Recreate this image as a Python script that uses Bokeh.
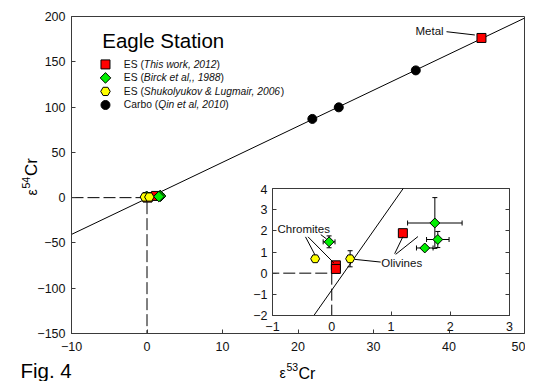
import math
from bokeh.plotting import figure
from bokeh.models import ColumnDataSource, Whisker, TeeHead, Label, LinearAxis, FixedTicker, Range1d
from bokeh.embed import file_html
from bokeh.resources import INLINE

# ---------------- data ----------------
X_RANGE = (-10, 50)
Y_RANGE = (-150, 200)
X_TICKS = [-10, 0, 10, 20, 30, 40, 50]
Y_TICKS = [-150, -100, -50, 0, 50, 100, 150, 200]
INSET_X_RANGE = (-1, 3)
INSET_Y_RANGE = (-2, 4)
INSET_X_TICKS = [-1, 0, 1, 2, 3]
INSET_Y_TICKS = [-2, -1, 0, 1, 2, 3, 4]

# ES (This work, 2012): chromites, olivine, metal
THIS_WORK_X = [0.07, 0.07, 1.20, 44.3]
THIS_WORK_Y = [0.37, 0.20, 1.89, 176.3]
# ES (Birck et al., 1988)
BIRCK_X = [-0.045, 1.74, 1.79, 1.57]
BIRCK_Y = [1.48, 2.37, 1.59, 1.19]
BIRCK_XERR = [0.10, 0.46, 0.19, 0.14]
BIRCK_YERR = [0.28, 1.20, 0.38, 0.10]
# ES (Shukolyukov & Lugmair, 2006)
SHUK_X = [-0.28, 0.31]
SHUK_Y = [0.68, 0.68]
SHUK_XERR = [0.05, 0.05]
SHUK_YERR = [0.10, 0.38]
# Carbo (Qin et al, 2010)
CARBO_X = [21.9, 25.4, 35.6]
CARBO_Y = [86.9, 99.7, 140.5]
# correlation line end points
FIT_X = [-10, 50]
FIT_Y = [-40.6, 198.2]
# dashed reference lines through the origin
REF_X = [-10, 0, 0]
REF_Y = [0, 0, -150]

LEGEND_ROWS = [
    ("ES (", "This work, 2012", ")"),
    ("ES (", "Birck et al,, 1988", ")"),
    ("ES (", "Shukolyukov & Lugmair, 2006", ")"),
    ("Carbo (", "Qin et al, 2010", ")"),
]

# ---------------- styles ----------------
FONT = "Liberation Sans"
AXC = "#3a3a3a"
RED = "#ff0000"
GREEN = "#00ee00"
YELLOW = "#ffff00"
TICK_FS = "12.5px"

W = {' ': 278, '(': 333, ')': 333, ',': 278, '.': 278, '&': 667,
     'A': 667, 'B': 667, 'C': 722, 'E': 667, 'L': 556, 'Q': 778, 'S': 667, 'T': 611,
     'a': 556, 'b': 556, 'c': 500, 'd': 556, 'e': 556, 'g': 556, 'h': 556, 'i': 222,
     'k': 500, 'l': 222, 'm': 833, 'n': 556, 'o': 556, 'r': 333, 's': 500, 't': 278,
     'u': 556, 'v': 500, 'w': 722, 'y': 500}


def tw(s, size):
    return sum(W.get(c, 556) for c in s) * size / 1000.0


def style_axis(ax, ticks, standoff):
    ax.ticker = FixedTicker(ticks=ticks)
    ax.major_tick_in = 4
    ax.major_tick_out = 0
    ax.minor_tick_line_color = None
    ax.axis_line_color = AXC
    ax.major_tick_line_color = AXC
    ax.major_label_text_font = FONT
    ax.major_label_text_font_size = TICK_FS
    ax.major_label_text_color = "#111111"
    ax.major_label_standoff = standoff


def add_points(fig, sizes):
    bsrc = ColumnDataSource(dict(
        x=BIRCK_X, y=BIRCK_Y,
        yu=[v + e for v, e in zip(BIRCK_Y, BIRCK_YERR)],
        yl=[v - e for v, e in zip(BIRCK_Y, BIRCK_YERR)],
        xu=[v + e for v, e in zip(BIRCK_X, BIRCK_XERR)],
        xl=[v - e for v, e in zip(BIRCK_X, BIRCK_XERR)]))
    ssrc = ColumnDataSource(dict(
        x=SHUK_X, y=SHUK_Y,
        yu=[v + e for v, e in zip(SHUK_Y, SHUK_YERR)],
        yl=[v - e for v, e in zip(SHUK_Y, SHUK_YERR)],
        xu=[v + e for v, e in zip(SHUK_X, SHUK_XERR)],
        xl=[v - e for v, e in zip(SHUK_X, SHUK_XERR)]))
    for src in (bsrc, ssrc):
        fig.add_layout(Whisker(source=src, base="x", upper="yu", lower="yl", dimension="height",
                               line_color="black", line_width=1,
                               upper_head=TeeHead(size=5, line_color="black", line_width=1),
                               lower_head=TeeHead(size=5, line_color="black", line_width=1)))
        fig.add_layout(Whisker(source=src, base="y", upper="xu", lower="xl", dimension="width",
                               line_color="black", line_width=1,
                               upper_head=TeeHead(size=5, line_color="black", line_width=1),
                               lower_head=TeeHead(size=5, line_color="black", line_width=1)))
    fig.scatter(CARBO_X, CARBO_Y, marker="circle", size=sizes["circle"],
                fill_color="black", line_color="black")
    fig.scatter(THIS_WORK_X, THIS_WORK_Y, marker="square", size=sizes["square"],
                fill_color=RED, line_color="black", line_width=1)
    fig.scatter(BIRCK_X, BIRCK_Y, marker="square", angle=math.pi / 4, size=sizes["diamond"],
                fill_color=GREEN, line_color="black", line_width=1)
    fig.scatter(SHUK_X, SHUK_Y, marker="hex", size=sizes["hex"],
                fill_color=YELLOW, line_color="black", line_width=1)


# ---------------- main figure ----------------
p = figure(frame_width=453, frame_height=317, x_range=X_RANGE, y_range=Y_RANGE,
           output_backend="svg", toolbar_location=None,
           min_border_left=63, min_border_right=1, min_border_top=8, min_border_bottom=30,
           outline_line_color=AXC, background_fill_color="white")
p.grid.grid_line_color = None
style_axis(p.xaxis[0], X_TICKS, 8)
style_axis(p.yaxis[0], Y_TICKS, 6)

p.line(FIT_X, FIT_Y, line_color="black", line_width=1)
p.line(REF_X, REF_Y, line_color="black", line_width=1, line_dash="12 4")
add_points(p, dict(circle=9, square=9, diamond=7.5, hex=9.5))

# Metal annotation
p.line([39.67, 43.42], [183.2, 179.6], line_color="black", line_width=1)
p.add_layout(Label(x=35.56, y=184.3, text="Metal", text_font=FONT, text_font_size="11.5px",
                   text_baseline="middle", text_align="left", text_color="#111111"))

# title
p.add_layout(Label(x=-5.93, y=173.3, text="Eagle Station", text_font=FONT, text_font_size="20.5px",
                   text_baseline="middle", text_align="left", text_color="black"))

# legend (manual, mixed italic)
LEG_MX = -5.5
LEG_TX = -3.07
LEG_Y = [147.1, 132.2, 117.3, 102.3]
LEG_FS = 10.3
p.scatter([LEG_MX], [LEG_Y[0]], marker="square", size=9, fill_color=RED, line_color="black")
p.scatter([LEG_MX], [LEG_Y[1]], marker="square", angle=math.pi / 4, size=7.5,
          fill_color=GREEN, line_color="black")
p.scatter([LEG_MX], [LEG_Y[2]], marker="hex", size=9.5, fill_color=YELLOW, line_color="black")
p.scatter([LEG_MX], [LEG_Y[3]], marker="circle", size=9, fill_color="black", line_color="black")
for (a, b, c), yy in zip(LEGEND_ROWS, LEG_Y):
    off = 0.0
    for part, style in ((a, "normal"), (b, "italic"), (c, "normal")):
        p.add_layout(Label(x=LEG_TX, y=yy, x_offset=off, text=part, text_font=FONT,
                           text_font_size=f"{LEG_FS}px", text_font_style=style,
                           text_baseline="middle", text_align="left", text_color="#111111"))
        off += tw(part, LEG_FS)

p.styles = {"position": "absolute", "left": "8px", "top": "8px"}

# ---------------- inset ----------------
inset = figure(frame_width=237, frame_height=127, x_range=INSET_X_RANGE, y_range=INSET_Y_RANGE,
               output_backend="svg", toolbar_location=None,
               min_border_left=24, min_border_right=8, min_border_top=4, min_border_bottom=24,
               outline_line_color=AXC, border_fill_color=None, background_fill_color="white")
inset.grid.grid_line_color = None
style_axis(inset.xaxis[0], INSET_X_TICKS, 6)
style_axis(inset.yaxis[0], INSET_Y_TICKS, 5)
rax = LinearAxis()
style_axis(rax, INSET_Y_TICKS, 0)
rax.major_label_text_color = None
inset.add_layout(rax, "right")

inset.line(FIT_X, FIT_Y, line_color="black", line_width=1)
inset.line(REF_X, REF_Y, line_color="black", line_width=1, line_dash="12 4")
add_points(inset, dict(circle=9, square=9, diamond=7, hex=9))

for (x0, y0, x1, y1) in [(-0.443, 1.714, -0.282, 0.857), (-0.40, 1.714, 0.034, 0.49),
                         (-0.185, 1.82, -0.089, 1.62), (0.388, 0.652, 0.826, 0.524),
                         (1.062, 0.919, 1.202, 1.729), (1.079, 0.890, 1.455, 1.729)]:
    inset.line([x0, x1], [y0, y1], line_color="black", line_width=1)
inset.add_layout(Label(x=-0.916, y=2.08, text="Chromites", text_font=FONT, text_font_size="11.5px",
                       text_baseline="middle", text_align="left", text_color="#111111"))
inset.add_layout(Label(x=0.835, y=0.49, text="Olivines", text_font=FONT, text_font_size="11.5px",
                       text_baseline="middle", text_align="left", text_color="#111111"))

inset.styles = {"position": "absolute", "left": "248px", "top": "184px"}

# ---------------- text overlay (axis titles, figure number) ----------------
ov = figure(width=525, height=373, x_range=Range1d(0, 525), y_range=Range1d(373, 0),
            output_backend="svg", toolbar_location=None,
            x_axis_location=None, y_axis_location=None, min_border=0,
            outline_line_color=None, background_fill_color=None, border_fill_color=None)
ov.grid.grid_line_color = None


def ov_text(x, y, text, size, angle=0.0):
    ov.add_layout(Label(x=x, y=y, text=text, angle=angle, text_font=FONT,
                        text_font_size=size, text_baseline="alphabetic",
                        text_align="left", text_color="black"))


# x axis title: epsilon 53 Cr
ov_text(271, 364.5, "ε", "14px")
ov_text(278, 358.5, "53", "10.5px")
ov_text(290, 364.5, "Cr", "16px")
# y axis title: epsilon 54 Cr (rotated)
ov_text(23, 187, "ε", "14px", math.pi / 2)
ov_text(17, 180, "54", "10.5px", math.pi / 2)
ov_text(23, 167.5, "Cr", "17px", math.pi / 2)
# figure number
ov_text(12, 362, "Fig. 4", "20.5px")

ov.styles = {"position": "absolute", "left": "8px", "top": "8px"}

open("out.html", "w").write(file_html([p, inset, ov], INLINE))
